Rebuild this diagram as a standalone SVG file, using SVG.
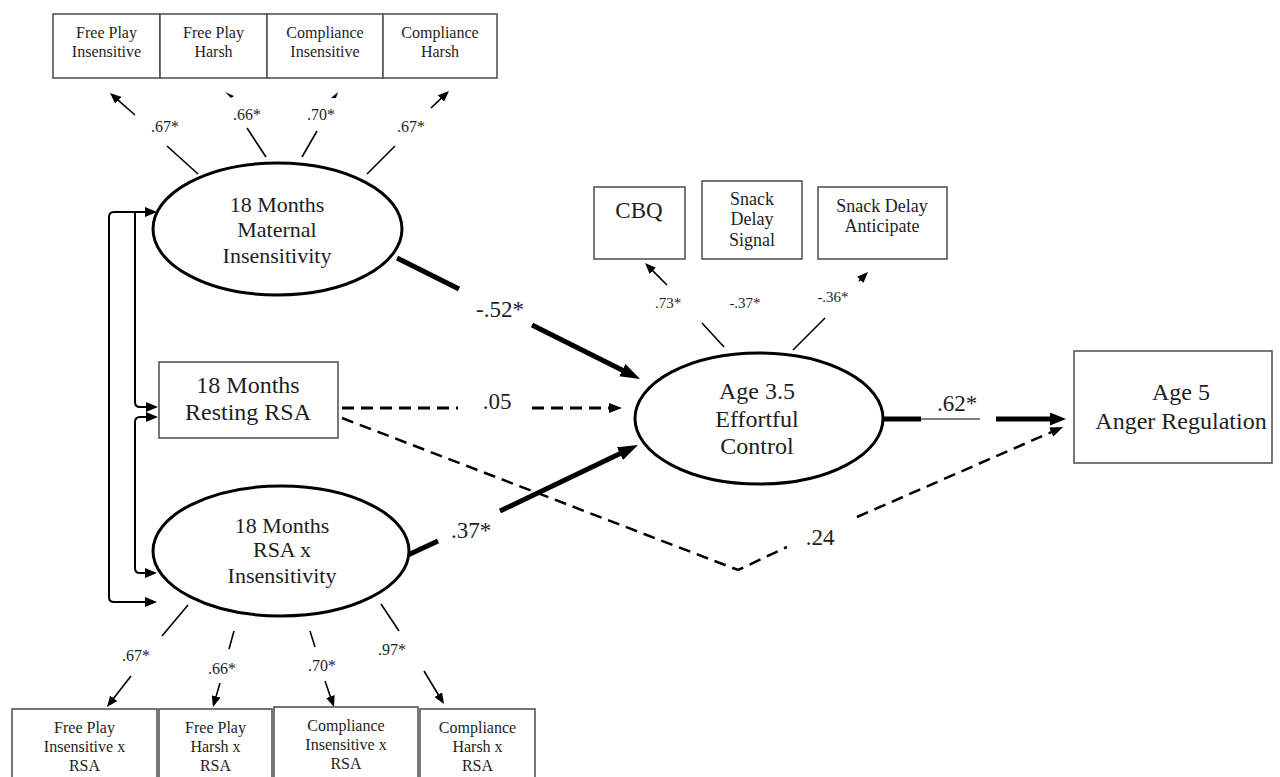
<svg xmlns="http://www.w3.org/2000/svg" width="1280" height="777" viewBox="0 0 1280 777">
<style>
text{font-family:"Liberation Serif","Times New Roman",serif;fill:#1e1e1e;text-anchor:middle}
.box{fill:#fff;stroke:#555;stroke-width:1.6}
.ell{fill:#fff;stroke:#000;stroke-width:3}
.t16{font-size:16px}
.t15{font-size:15px}
.t18{font-size:18px}
.t22{font-size:22px}
.t24{font-size:24px}
.t23{font-size:23px}
.ld{stroke:#000;stroke-width:1.6;fill:none}
.thick{stroke:#000;stroke-width:5;fill:none}
.thin{stroke:#000;stroke-width:1;fill:none}
.dash{stroke:#000;stroke-width:3;fill:none;stroke-dasharray:12 7}
.dash2{stroke:#000;stroke-width:2.5;fill:none;stroke-dasharray:12 7}
.corr{stroke:#000;stroke-width:2;fill:none}
</style>
<defs>
<marker id="big" markerUnits="userSpaceOnUse" markerWidth="20" markerHeight="14" refX="2" refY="7" orient="auto"><path d="M0,0 L20,7 L0,14 z" fill="#000"/></marker>
<marker id="mid" markerUnits="userSpaceOnUse" markerWidth="16" markerHeight="13" refX="2" refY="6.5" orient="auto"><path d="M0,0 L16,6.5 L0,13 z" fill="#000"/></marker>
<marker id="dm" markerUnits="userSpaceOnUse" markerWidth="13" markerHeight="10" refX="2" refY="5" orient="auto"><path d="M0,0 L13,5 L0,10 z" fill="#000"/></marker>
<marker id="sm" markerUnits="userSpaceOnUse" markerWidth="11" markerHeight="9" refX="1" refY="4.5" orient="auto"><path d="M0,0 L11,4.5 L0,9 z" fill="#000"/></marker>
<marker id="cm" markerUnits="userSpaceOnUse" markerWidth="12" markerHeight="10" refX="1" refY="5" orient="auto-start-reverse"><path d="M0,0 L12,5 L0,10 z" fill="#000"/></marker>
</defs>

<g id="connectors">
<!-- correlations -->
<path class="corr" d="M146,212 L114,212 Q109,212 109,217 L109,597 Q109,602 114,602 L146,602" marker-start="url(#cm)" marker-end="url(#cm)"/>
<path class="corr" d="M135,212 L135,402 Q135,407 140,407 L147,407" marker-end="url(#cm)"/>
<path class="corr" d="M147,417 L140,417 Q135,417 135,422 L135,568 Q135,573 140,573 L146,573" marker-start="url(#cm)" marker-end="url(#cm)"/>
<!-- top loadings -->
<path class="ld" d="M198,174 L167,146"/>
<path class="ld" d="M135,115 L117.5,99.6" marker-end="url(#sm)"/>
<path class="ld" d="M266,157 L247,128"/>
<path d="M225,92 L234,96 L231,98 z" fill="#000"/>
<path class="ld" d="M302,157 L317,131"/>
<path d="M338,92 L336,98 L331,98 z" fill="#000"/>
<path class="ld" d="M367,174 L395,146"/>
<path class="ld" d="M431,108 L441.7,97.9" marker-end="url(#sm)"/>
<!-- bottom loadings -->
<path class="ld" d="M188,605 L162,636"/>
<path class="ld" d="M131,676 L113.1,699.1" marker-end="url(#sm)"/>
<path class="ld" d="M234,631 L229,649"/>
<path class="ld" d="M220,683 L215.8,697.4" marker-end="url(#sm)"/>
<path class="ld" d="M310,631 L315,647"/>
<path class="ld" d="M325,681 L330.7,697.5" marker-end="url(#sm)"/>
<path class="ld" d="M381,604 L399,631"/>
<path class="ld" d="M424,671 L438.8,695.5" marker-end="url(#sm)"/>
<!-- effortful control loadings -->
<path class="ld" d="M724,347 L702,323"/>
<path class="ld" d="M667,285 L652.1,270.1" marker-end="url(#sm)"/>
<path class="ld" d="M793,350 L825,318"/>
<path class="ld" d="M859,281 L860.9,279.1" marker-end="url(#sm)"/>
<!-- structural paths -->
<path class="thick" d="M397,258 L459,289"/>
<path class="thick" d="M532,325 L624,371" marker-end="url(#big)"/>
<path class="thick" d="M408,555 L438,541"/>
<path class="thick" d="M500,511 L621.8,452.8" marker-end="url(#big)"/>
<path class="dash" d="M342,408 L458,408"/>
<path class="dash" d="M532,408 L611,408" marker-end="url(#dm)"/>
<path class="dash2" d="M342,418 L738,570 L787,547"/>
<path class="dash2" d="M857,517 L1053,431.4" marker-end="url(#dm)"/>
<path class="thick" d="M877,419 L921,419"/>
<path class="thin" d="M921,419 L980,419"/>
<path class="thick" d="M996,419 L1052,419" marker-end="url(#mid)"/>
<!-- path labels -->
<text class="t16" x="165" y="132">.67*</text>
<text class="t16" x="247" y="120">.66*</text>
<text class="t16" x="321" y="120">.70*</text>
<text class="t16" x="411" y="132">.67*</text>
<text class="t16" x="136" y="661">.67*</text>
<text class="t16" x="222" y="674">.66*</text>
<text class="t16" x="322" y="671">.70*</text>
<text class="t16" x="392" y="655">.97*</text>
<text class="t15" x="668" y="308">.73*</text>
<text class="t15" x="745" y="308">-.37*</text>
<text class="t15" x="833" y="302">-.36*</text>
<text class="t23" x="500" y="317">-.52*</text>
<text class="t23" x="497" y="409">.05</text>
<text class="t23" x="471" y="538">.37*</text>
<text class="t23" x="957" y="411">.62*</text>
<text class="t23" x="820" y="545">.24</text>
</g>

<g id="fp_insensitive"><rect class="box" x="53" y="14" width="107" height="64"/><text class="t16" x="106.5" y="38">Free Play</text><text class="t16" x="106.5" y="57">Insensitive</text></g>
<g id="fp_harsh"><rect class="box" x="160" y="14" width="107" height="64"/><text class="t16" x="213.5" y="38">Free Play</text><text class="t16" x="213.5" y="57">Harsh</text></g>
<g id="comp_insensitive"><rect class="box" x="267" y="14" width="116" height="64"/><text class="t16" x="325" y="38">Compliance</text><text class="t16" x="325" y="57">Insensitive</text></g>
<g id="comp_harsh"><rect class="box" x="383" y="14" width="114" height="64"/><text class="t16" x="440" y="38">Compliance</text><text class="t16" x="440" y="57">Harsh</text></g>

<g id="maternal_insensitivity"><ellipse class="ell" cx="277.5" cy="229" rx="124.5" ry="66"/><text class="t22" x="277" y="212">18 Months</text><text class="t22" x="277" y="237">Maternal</text><text class="t22" x="277" y="263">Insensitivity</text></g>

<g id="resting_rsa"><rect class="box" x="159" y="362" width="179" height="76"/><text class="t24" x="248" y="393">18 Months</text><text class="t24" x="248" y="420">Resting RSA</text></g>

<g id="rsa_x_insensitivity"><ellipse class="ell" cx="281" cy="551" rx="128" ry="65"/><text class="t22" x="282" y="533">18 Months</text><text class="t22" x="282" y="557">RSA x</text><text class="t22" x="282" y="583">Insensitivity</text></g>

<g id="cbq"><rect class="box" x="594" y="187" width="91" height="72"/><text class="t23" x="639" y="218">CBQ</text></g>
<g id="snack_signal"><rect class="box" x="702" y="181" width="100" height="78"/><text class="t18" x="752" y="205">Snack</text><text class="t18" x="752" y="225">Delay</text><text class="t18" x="752" y="246">Signal</text></g>
<g id="snack_anticipate"><rect class="box" x="818" y="187" width="129" height="72"/><text class="t18" x="882" y="212">Snack Delay</text><text class="t18" x="882" y="232">Anticipate</text></g>

<g id="effortful_control"><ellipse class="ell" cx="759" cy="418.5" rx="124" ry="65.5"/><text class="t24" x="757" y="399">Age 3.5</text><text class="t24" x="757" y="427">Effortful</text><text class="t24" x="757" y="454">Control</text></g>

<g id="anger_regulation"><rect class="box" x="1074" y="351" width="198" height="112"/><text class="t24" x="1181" y="400">Age 5</text><text class="t24" x="1181" y="429">Anger Regulation</text></g>

<g id="fp_insensitive_rsa"><rect class="box" x="12" y="709" width="145" height="90"/><text class="t16" x="84.5" y="733">Free Play</text><text class="t16" x="84.5" y="752">Insensitive x</text><text class="t16" x="84.5" y="771">RSA</text></g>
<g id="fp_harsh_rsa"><rect class="box" x="159" y="709" width="113" height="90"/><text class="t16" x="215.5" y="733">Free Play</text><text class="t16" x="215.5" y="752">Harsh x</text><text class="t16" x="215.5" y="771">RSA</text></g>
<g id="comp_insensitive_rsa"><rect class="box" x="274" y="707" width="144" height="92"/><text class="t16" x="346" y="731">Compliance</text><text class="t16" x="346" y="750">Insensitive x</text><text class="t16" x="346" y="769">RSA</text></g>
<g id="comp_harsh_rsa"><rect class="box" x="420" y="709" width="115" height="90"/><text class="t16" x="477.5" y="733">Compliance</text><text class="t16" x="477.5" y="752">Harsh x</text><text class="t16" x="477.5" y="771">RSA</text></g>
</svg>
